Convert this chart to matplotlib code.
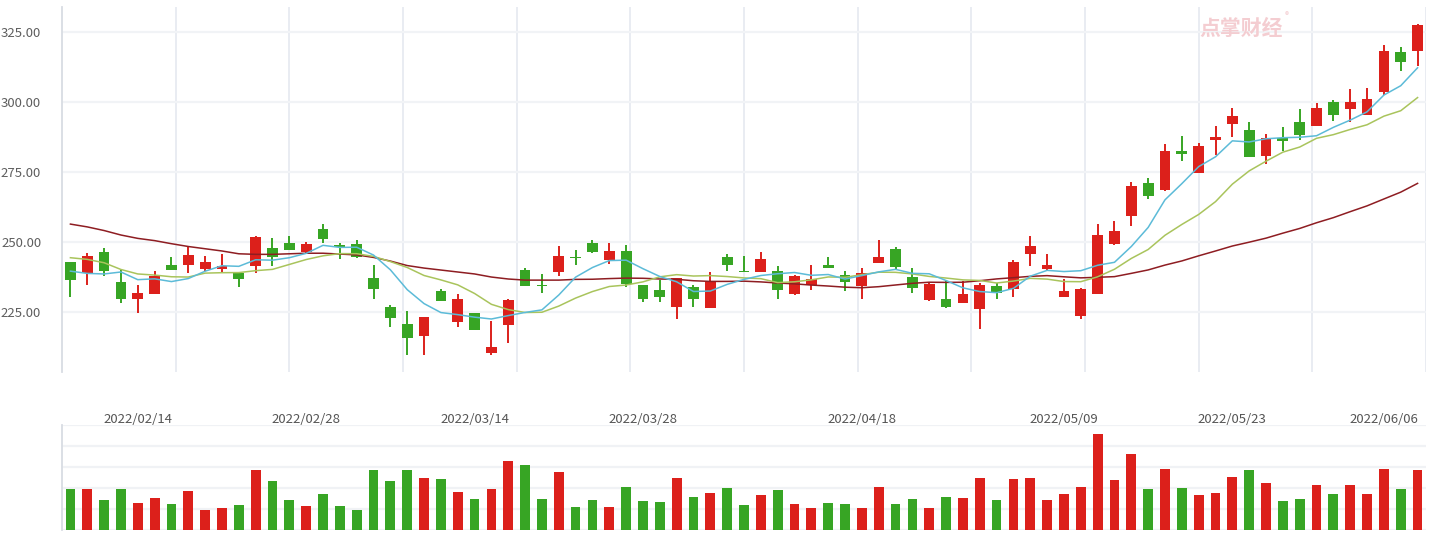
"""
Daily K-line chart with MA5 / MA10 / MA30 and a volume panel (2022-02-08 .. 2022-06-08).
"""

import matplotlib.pyplot as plt
import numpy as np
import pandas as pd

plt.rcParams['font.family'] = ['Noto Sans CJK SC', 'DejaVu Sans']

# trading days (A-share calendar, holidays closed)
holidays = ['2022-04-04', '2022-04-05', '2022-05-02', '2022-05-03', '2022-05-04', '2022-06-03']
days = pd.bdate_range('2022-02-08', '2022-06-08', freq='C', holidays=holidays)
tick_dates = ['2022/02/14', '2022/02/28', '2022/03/14', '2022/03/28',
              '2022/04/18', '2022/05/09', '2022/05/23', '2022/06/06']

opens = [242.9, 238.8, 246.4, 235.7, 229.8, 231.5, 241.7, 241.9, 240.5, 240.5,
         238.9, 241.5, 247.7, 249.6, 246.5, 254.5, 248.9, 249.2, 237.1, 226.7,
         220.7, 216.5, 232.5, 221.5, 224.5, 210.5, 220.5, 240.0, 234.6, 239.4,
         244.6, 249.5, 243.5, 246.8, 234.6, 232.9, 226.7, 233.8, 226.3, 244.5,
         239.6, 239.3, 239.6, 231.5, 234.5, 241.7, 238.1, 234.3, 242.6, 247.5,
         237.5, 229.3, 229.6, 228.3, 226.2, 234.2, 233.3, 245.8, 240.5, 230.5,
         223.7, 231.5, 249.4, 259.4, 271.0, 268.6, 282.5, 274.8, 286.5, 292.3,
         290.0, 280.8, 287.1, 292.9, 291.4, 299.9, 297.6, 295.4, 303.6, 317.7,
         318.3]
closes = [236.5, 245.0, 239.8, 229.8, 231.7, 238.0, 240.1, 245.2, 242.9, 241.5,
          236.9, 251.8, 244.5, 247.3, 249.3, 251.2, 248.1, 244.8, 233.3, 223.0,
          215.8, 223.2, 228.8, 229.6, 218.5, 212.5, 229.3, 234.4, 234.2, 245.0,
          244.4, 246.5, 246.8, 234.9, 229.8, 230.5, 237.0, 229.5, 235.7, 241.7,
          239.4, 243.9, 232.7, 237.9, 236.7, 240.8, 235.8, 238.9, 244.5, 241.2,
          233.7, 235.0, 226.9, 231.4, 234.6, 231.7, 242.7, 248.6, 241.8, 232.5,
          233.2, 252.4, 253.9, 270.0, 266.5, 282.5, 281.3, 284.3, 287.5, 295.0,
          280.5, 287.0, 286.2, 288.3, 297.7, 295.5, 299.9, 301.0, 318.2, 314.4,
          327.5]
highs = [243.0, 246.2, 247.9, 240.0, 234.5, 239.6, 244.5, 248.3, 245.0, 245.6,
         238.9, 252.1, 251.3, 252.1, 250.0, 256.4, 249.5, 250.7, 241.7, 227.4,
         225.4, 223.2, 233.3, 231.4, 224.5, 221.8, 229.6, 240.6, 238.6, 248.7,
         247.1, 250.7, 249.8, 248.8, 234.6, 236.4, 237.0, 234.6, 239.3, 245.7,
         245.0, 246.4, 241.4, 238.1, 241.7, 244.5, 239.6, 240.7, 250.7, 248.2,
         240.7, 235.5, 236.0, 236.0, 235.5, 235.5, 243.6, 252.1, 245.7, 236.7,
         233.5, 256.3, 257.5, 271.3, 272.9, 285.0, 287.9, 285.5, 291.5, 297.9,
         293.0, 288.6, 291.1, 297.5, 299.6, 300.7, 304.6, 305.0, 320.4, 319.6,
         327.9]
lows = [230.5, 234.8, 238.0, 228.3, 224.8, 231.5, 240.1, 239.0, 239.8, 239.4,
        234.0, 239.0, 241.5, 247.3, 246.0, 249.5, 243.8, 244.2, 229.8, 219.8,
        209.8, 209.8, 228.8, 219.8, 218.5, 209.5, 214.0, 234.4, 231.9, 237.9,
        241.8, 246.2, 242.1, 234.0, 228.6, 228.6, 222.4, 226.9, 226.3, 239.5,
        239.4, 239.3, 229.5, 231.1, 233.0, 240.8, 232.6, 229.6, 242.6, 240.5,
        231.8, 229.0, 226.5, 228.3, 218.8, 229.8, 230.5, 241.6, 240.0, 230.5,
        222.4, 231.5, 248.8, 255.7, 265.3, 268.2, 279.1, 274.8, 281.1, 287.5,
        280.5, 278.0, 282.5, 286.4, 291.4, 293.2, 292.9, 295.4, 302.5, 311.1,
        312.9]
volumes = [123, 123, 90, 123, 81, 96, 78, 117, 60, 66,
           75, 180, 147, 90, 72, 108, 72, 60, 180, 147,
           180, 156, 153, 114, 93, 123, 207, 195, 93, 174,
           69, 90, 69, 129, 87, 84, 156, 99, 111, 126,
           75, 105, 120, 78, 66, 81, 78, 66, 129, 78,
           93, 66, 99, 96, 156, 90, 153, 156, 90, 108,
           129, 288, 150, 228, 123, 183, 126, 105, 111, 159,
           180, 141, 87, 93, 135, 108, 135, 108, 183, 123,
           180]

ma5_head = [239.6, 238.8, 238.6, 239.3]
ma10_head = [244.4, 243.8, 242.6, 240.2, 238.6, 238.2, 237.6, 237.5, 238.9]
ma30_head = [256.4, 255.4, 254.1, 252.5, 251.3, 250.5, 249.4, 248.4, 247.6, 246.8,
             245.8, 245.6, 245.6, 245.8, 246.0, 246.0, 245.7, 245.4, 244.5, 243.2,
             241.6, 240.7, 240.0, 239.3, 238.6, 237.5, 236.8, 236.4, 236.4]

UP = '#dc201b'
DOWN = '#37a524'
W, H = 1430, 534

close_s = pd.Series(closes)
ma5 = close_s.rolling(5).mean().to_numpy()
ma5[:len(ma5_head)] = ma5_head
ma10 = close_s.rolling(10).mean().to_numpy()
ma10[:len(ma10_head)] = ma10_head
ma30 = close_s.rolling(30).mean().to_numpy()
ma30[:len(ma30_head)] = ma30_head

o = np.array(opens)
c = np.array(closes)
x = np.arange(len(o))
colors = [UP if cc >= oo else DOWN for oo, cc in zip(o, c)]

fig = plt.figure(figsize=(W / 100, H / 100), dpi=100)
ax = fig.add_axes([62 / W, 1 - 372 / H, (1426 - 62) / W, (372 - 7) / H])
ax2 = fig.add_axes([62 / W, 1 - 530 / H, (1426 - 62) / W, (530 - 425) / H])

# ---- price panel
ax.vlines(x, lows, highs, colors=colors, linewidth=1.4, zorder=3)
body_bottom = np.minimum(o, c)
body_h = np.maximum(np.abs(c - o), 0.35)
ax.bar(x, body_h, bottom=body_bottom, width=0.64, color=colors, linewidth=0, zorder=4)

ax.plot(x, ma30, color='#8e1d22', linewidth=1.1, zorder=5)
ax.plot(x, ma10, color='#a9c45c', linewidth=1.1, zorder=5)
ax.plot(x, ma5, color='#5cbbd8', linewidth=1.1, zorder=5)

n = len(x)
split_lines = np.linspace(-0.5, n - 0.5, 13)
for sx in split_lines[1:]:
    ax.axvline(sx, color='#e9ecf2', linewidth=1.4, zorder=0)

ax.set_xlim(-0.5, n - 0.5)
ax.set_ylim(203.6, 333.9)
ax.set_yticks([225, 250, 275, 300, 325])
ax.set_yticklabels([f'{v:.2f}' for v in [225, 250, 275, 300, 325]])
ax.grid(axis='y', color='#f1f3f6', linewidth=1.6, zorder=0)
ax.set_xticks([])
ax.tick_params(axis='y', length=0, pad=15, labelsize=9.5, labelcolor='#5e5e5e')
for side in ['top', 'right', 'bottom']:
    ax.spines[side].set_visible(False)
ax.spines['left'].set_color('#d8dce3')
ax.spines['left'].set_linewidth(1.3)

# ---- volume panel
ax2.bar(x, volumes, width=0.58, color=colors, linewidth=0, zorder=3)
ax2.set_xlim(-0.5, n - 0.5)
ax2.set_ylim(0, 315)
ax2.set_yticks(np.linspace(0, 315, 6))
ax2.set_yticklabels([])
ax2.grid(axis='y', color='#f0f2f5', linewidth=1.6, zorder=0)
labels = list(days.strftime('%Y/%m/%d'))
ax2.set_xticks([labels.index(d) for d in tick_dates])
ax2.set_xticklabels(tick_dates)
ax2.tick_params(axis='x', top=True, labeltop=True, bottom=False, labelbottom=False,
                length=0, pad=-1, labelsize=9.5, labelcolor='#555555')
ax2.tick_params(axis='y', length=0)
for side in ['top', 'right', 'bottom']:
    ax2.spines[side].set_visible(False)
ax2.spines['left'].set_color('#d8dce3')
ax2.spines['left'].set_linewidth(1.3)

# watermark
fig.text(1241 / W, 1 - 28 / H, '点掌财经', color='#f4cdd1', fontsize=15,
         fontweight='bold', ha='center', va='center', zorder=0)
fig.text(1287 / W, 1 - 16 / H, '®', color='#f4cdd1', fontsize=6,
         ha='center', va='center', zorder=0)

fig.savefig('out.png', dpi=100, facecolor='white')
